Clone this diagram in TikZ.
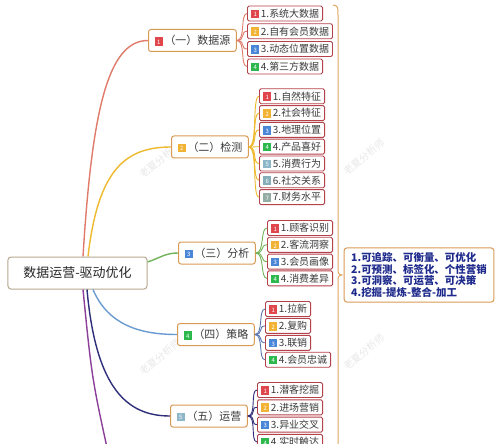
\documentclass[tikz,border=0pt]{standalone}
\usepackage{fontspec}
\setmainfont{Noto Sans CJK SC}
\definecolor{cR}{HTML}{E0474C}
\definecolor{cO}{HTML}{F2B233}
\definecolor{cB}{HTML}{4A86D8}
\definecolor{cG}{HTML}{2DB84D}
\definecolor{cF}{HTML}{8DB6C9}
\definecolor{cS}{HTML}{86AEB8}
\definecolor{cV}{HTML}{93ACA4}
\definecolor{eR}{HTML}{E07A6A}
\definecolor{eO}{HTML}{EFB92E}
\definecolor{eG}{HTML}{72B35A}
\definecolor{eB}{HTML}{6A9BD0}
\definecolor{eS}{HTML}{5A78B0}
\definecolor{eN}{HTML}{2E2E7A}
\definecolor{eP}{HTML}{8B3F9A}
\definecolor{lfc}{HTML}{B5424A}
\definecolor{brc}{HTML}{D99A55}
\definecolor{rtc}{HTML}{B8A88E}
\definecolor{smc}{HTML}{1E2A8C}
\definecolor{bcc}{HTML}{E0A860}
\definecolor{tx}{HTML}{3A3A3A}
\newcommand\bdg[2]{{\setlength{\fboxsep}{0pt}\raisebox{-0.9bp}{\colorbox{#1}{\makebox[8.5bp]{\rule{0pt}{8.5bp}\raisebox{1.4bp}{\color{white}\fontsize{6}{6}\selectfont #2}}}}}\hspace{1.5bp}}
\tikzset{
  leaf/.style={draw=lfc, line width=0.9bp, fill=white, rounded corners=1.5bp, inner xsep=3.5bp, inner ysep=0bp, minimum height=15bp, anchor=west, text=tx, font=\fontsize{10}{10}\selectfont},
  branch/.style={draw=brc, line width=1bp, fill=white, rounded corners=2.5bp, inner xsep=6bp, inner ysep=0bp, minimum height=22bp, anchor=west, text=tx, font=\fontsize{11}{11}\selectfont},
  rootbox/.style={draw=rtc, line width=1bp, fill=white, rounded corners=3bp, minimum width=139bp, minimum height=32bp, text=black!85, font=\fontsize{13}{13}\selectfont},
  sumbox/.style={draw=brc, line width=1bp, fill=white, rounded corners=2.5bp, inner xsep=7bp, minimum width=146bp, minimum height=54bp, align=left, text=smc, font=\fontsize{10.5}{11.7}\selectfont\bfseries},
  wm/.style={text=black!9, rotate=40, font=\fontsize{10}{10}\selectfont},
  mainedge/.style={line width=1.4bp},
  subedge/.style={line width=0.9bp}
}
\begin{document}
\begin{tikzpicture}[x=1bp,y=-1bp]
\useasboundingbox (0,0) rectangle (500,444);
\clip (0,0) rectangle (500,444);
\fill[white] (0,0) rectangle (500,444);
% watermarks
\node[wm] (w1) at (160,160) {老夏分析师};
\node[wm] (w2) at (364,157) {老夏分析师};
\node[wm] (w3) at (160,357) {老夏分析师};
\node[wm] (w4) at (364,352) {老夏分析师};
% root
\node[rootbox] (root) at (77.5,273) {数据运营-驱动优化};
% branches
\node[branch] (b1) at (148,40.5) {\bdg{cR}{1}（一）数据源};
\node[branch] (b2) at (171,147) {\bdg{cO}{2}（二）检测};
\node[branch] (b3) at (178,253) {\bdg{cB}{3}（三）分析};
\node[branch] (b4) at (177,334.5) {\bdg{cG}{4}（四）策略};
\node[branch] (b5) at (170,416) {\bdg{cF}{5}（五）运营};
% leaves b1
\node[leaf] (a1) at (247,13.5) {\bdg{cR}{1}1.系统大数据};
\node[leaf] (a2) at (247,31.3) {\bdg{cO}{2}2.自有会员数据};
\node[leaf] (a3) at (247,49) {\bdg{cB}{3}3.动态位置数据};
\node[leaf] (a4) at (247,66.5) {\bdg{cG}{4}4.第三方数据};
% leaves b2
\node[leaf] (c1) at (259,96.3) {\bdg{cR}{1}1.自然特征};
\node[leaf] (c2) at (259,113.1) {\bdg{cO}{2}2.社会特征};
\node[leaf] (c3) at (259,129.9) {\bdg{cB}{3}3.地理位置};
\node[leaf] (c4) at (259,146.7) {\bdg{cG}{4}4.产品喜好};
\node[leaf] (c5) at (259,163.5) {\bdg{cF}{5}5.消费行为};
\node[leaf] (c6) at (259,180.3) {\bdg{cS}{6}6.社交关系};
\node[leaf] (c7) at (259,197.1) {\bdg{cV}{7}7.财务水平};
% leaves b3
\node[leaf] (d1) at (267,228) {\bdg{cR}{1}1.顾客识别};
\node[leaf] (d2) at (267,244.8) {\bdg{cO}{2}2.客流洞察};
\node[leaf] (d3) at (267,261.6) {\bdg{cB}{3}3.会员画像};
\node[leaf] (d4) at (267,278.4) {\bdg{cG}{4}4.消费差异};
% leaves b4
\node[leaf] (e1) at (265,309) {\bdg{cR}{1}1.拉新};
\node[leaf] (e2) at (265,325.9) {\bdg{cO}{2}2.复购};
\node[leaf] (e3) at (265,342.8) {\bdg{cB}{3}3.联销};
\node[leaf] (e4) at (265,359.7) {\bdg{cG}{4}4.会员忠诚};
% leaves b5
\node[leaf] (f1) at (257,390) {\bdg{cR}{1}1.潜客挖掘};
\node[leaf] (f2) at (257,407.3) {\bdg{cO}{2}2.进场营销};
\node[leaf] (f3) at (257,424.6) {\bdg{cB}{3}3.异业交叉};
\node[leaf] (f4) at (257,441.9) {\bdg{cG}{4}4.实时触达};
% summary
\node[sumbox] (sum) at (419,275) {1.可追踪、可衡量、可优化\\2.可预测、标签化、个性营销\\3.可洞察、可运营、可决策\\4.挖掘-提炼-整合-加工};
% root edges
\coordinate (s1) at ([xshift=5.5bp]root.north);
\coordinate (s2) at ([xshift=10.5bp]root.north);
\coordinate (s3) at ([yshift=11bp]root.east);
\coordinate (s4) at ([xshift=15.5bp]root.south);
\coordinate (s5) at ([xshift=9.5bp]root.south);
\coordinate (s6) at ([xshift=5.5bp]root.south);
\coordinate (pend) at (112,470);
\draw[mainedge, eR] (s1) .. controls (92,110) and (108,40.5) .. (b1.west);
\draw[mainedge, eO] (s2) .. controls (98,170) and (125,147) .. (b2.west);
\draw[mainedge, eG] (s3) .. controls (160,258) and (165,253) .. (b3.west);
\draw[mainedge, eB] (s4) .. controls (108,325) and (140,334.5) .. (b4.west);
\draw[mainedge, eN] (s5) .. controls (96,390) and (128,416) .. (b5.west);
\draw[mainedge, eP] (s6) .. controls (92,380) .. (pend);
% sub edges
\foreach \n in {a1,a2,a3,a4}
  \draw[subedge, eR] (b1.east) .. controls +(9,0) and +(-7,0) .. (\n.west);
\foreach \n in {c1,c2,c3,c4,c5,c6,c7}
  \draw[subedge, eO] (b2.east) .. controls +(9,0) and +(-7,0) .. (\n.west);
\foreach \n in {d1,d2,d3,d4}
  \draw[subedge, eG] (b3.east) .. controls +(9,0) and +(-7,0) .. (\n.west);
\foreach \n in {e1,e2,e3,e4}
  \draw[subedge, eS] (b4.east) .. controls +(9,0) and +(-7,0) .. (\n.west);
\foreach \n in {f1,f2,f3,f4}
  \draw[subedge, eN] (b5.east) .. controls +(9,0) and +(-7,0) .. (\n.west);
% brace
\coordinate (bt) at (333,5);
\coordinate (tip) at ([xshift=-2bp]sum.west);
\coordinate (bb) at (338,470);
\draw[line width=1bp, bcc] (bt) .. controls (338,6) .. (338,18) -- (338,267) .. controls (338,274) .. (tip)
  .. controls (338,276) .. (338,283) -- (bb);
\end{tikzpicture}
\end{document}
